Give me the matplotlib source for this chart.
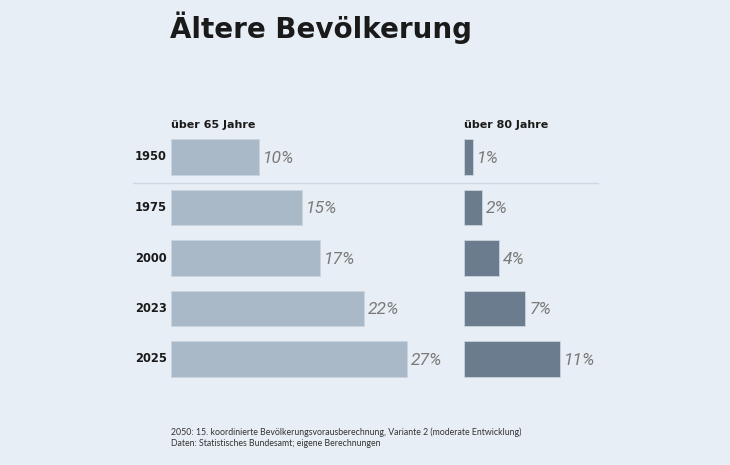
import matplotlib.pyplot as plt
from matplotlib.lines import Line2D

# Data
years = ["1950", "1975", "2000", "2023", "2025"]
over65 = [10, 15, 17, 22, 27]
over80 = [1, 2, 4, 7, 11]

bg = "#e8eef5"
c65 = "#a9b9c8"
c80 = "#6b7c8e"
label_col = "#7a7a7a"

plt.rcParams["font.family"] = ["Lato", "DejaVu Sans"]

W, H = 730, 465
fig = plt.figure(figsize=(W / 100, H / 100), dpi=100, facecolor=bg)

px_per_pct = 8.75
row_top, row_bot = 131.75, 384.25


def axes_at(x0, pct_max):
    w = pct_max * px_per_pct
    return fig.add_axes([x0 / W, 1 - row_bot / H, w / W, (row_bot - row_top) / H])


ax1 = axes_at(171, 30)
ax2 = axes_at(464, 15)

for ax, vals, col, xmax in [(ax1, over65, c65, 30), (ax2, over80, c80, 15)]:
    ax.barh(range(len(years)), vals, height=0.71, color=col,
            edgecolor="#c9d4de", linewidth=0.6)
    ax.set_xlim(0, xmax)
    ax.set_ylim(len(years) - 0.5, -0.5)
    ax.axis("off")
    for i, v in enumerate(vals):
        ax.text(v + 0.45, i + 0.02, f"{v}%", va="center", ha="left", fontsize=12.5,
                style="italic", fontweight="normal", color=label_col,
                family=["Roboto"])

# year labels
for i, y in enumerate(years):
    ax1.text(-0.45, i, y, va="center", ha="right", fontsize=8.3,
             fontweight="bold", color="#1a1a1a", family=["DejaVu Sans"])

# separator between 1950 and 1975
fig.add_artist(Line2D([133 / W, 598 / W], [1 - 183 / H, 1 - 183 / H],
                      color="#cfd8e1", linewidth=1))

# headers
for x0, txt in [(171, "über 65 Jahre"), (464, "über 80 Jahre")]:
    fig.text(x0 / W, 1 - 125 / H, txt, fontsize=8, fontweight="bold",
             color="#1a1a1a", va="center", ha="left", family=["DejaVu Sans"])

# title
fig.text(170 / W, 1 - 28 / H, "Ältere Bevölkerung", fontsize=20,
         fontweight="bold", color="#1a1a1a", va="center", ha="left",
         family=["DejaVu Sans"])

# footnote
fig.text(171 / W, 1 - 432 / H,
         "2050: 15. koordinierte Bevölkerungsvorausberechnung, Variante 2 (moderate Entwicklung)",
         fontsize=6.3, color="#333333", va="center", ha="left")
fig.text(171 / W, 1 - 443 / H, "Daten: Statistisches Bundesamt; eigene Berechnungen",
         fontsize=6.3, color="#333333", va="center", ha="left")

fig.savefig("out.png", dpi=100, facecolor=bg)
